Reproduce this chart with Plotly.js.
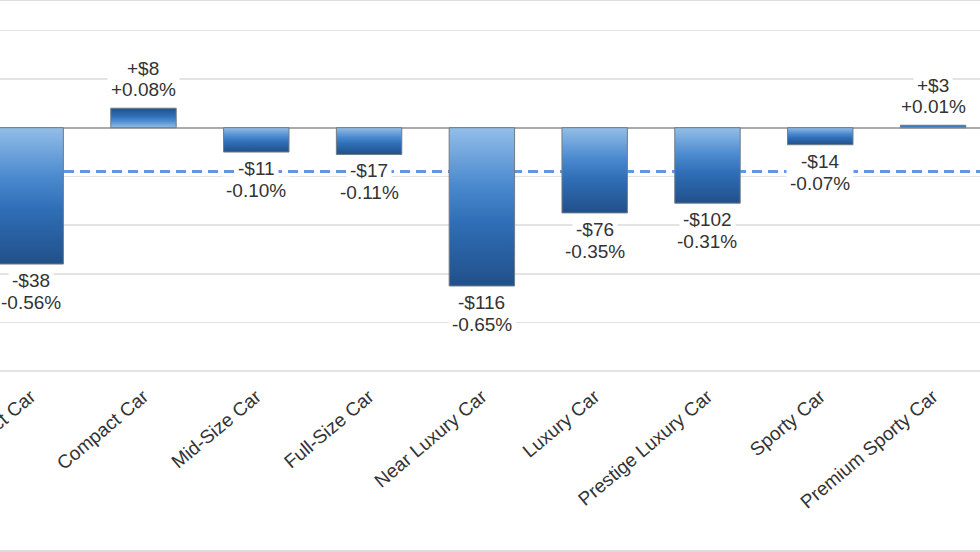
<!DOCTYPE html>
<html>
<head>
<meta charset="utf-8">
<script src="https://cdn.plot.ly/plotly-3.0.1.min.js"></script>
<style>html,body{margin:0;padding:0;background:#fff;}#chart{width:980px;height:552px;}</style>
</head>
<body>
<div id="chart"></div>
<script>
const categories = ["Subcompact Car","Compact Car","Mid-Size Car","Full-Size Car","Near Luxury Car","Luxury Car","Prestige Luxury Car","Sporty Car","Premium Sporty Car"];
const pctChange = [-0.56, 0.08, -0.10, -0.11, -0.65, -0.35, -0.31, -0.07, 0.01];
const dollarChange = [-38, 8, -11, -17, -116, -76, -102, -14, 3];
const avgPct = -0.18;
const gridVals = [0.4, 0.2, 0, -0.2, -0.4, -0.6, -0.8, -1.0];

const FONT = "Liberation Sans, Arial, Helvetica, sans-serif";
const fmtD = v => (v >= 0 ? "+$" : "-$") + Math.abs(v);
const fmtP = v => (v >= 0 ? "+" : "-") + Math.abs(v).toFixed(2) + "%";

const annFont = {family: FONT, size: 19, color: "#333333"};
const annotations = [];
categories.forEach((c, i) => {
  const pos = pctChange[i] >= 0;
  const base = {x: c, y: pctChange[i], xref: "x", yref: "y", showarrow: false,
    bgcolor: "#ffffff", borderpad: 3, font: annFont, yanchor: pos ? "bottom" : "top"};
  if (pos) {
    annotations.push(Object.assign({}, base, {text: fmtP(pctChange[i]), yshift: 4}));
    annotations.push(Object.assign({}, base, {text: fmtD(dollarChange[i]), yshift: 25}));
  } else {
    annotations.push(Object.assign({}, base, {text: fmtD(dollarChange[i]), yshift: -2}));
    annotations.push(Object.assign({}, base, {text: fmtP(pctChange[i]), yshift: -24}));
  }
});

const trace = {
  type: "bar", x: categories, y: pctChange,
  marker: {color: "#3a7dc6", line: {color: "#6f7b86", width: 1}},
  hoverinfo: "none"
};

const layout = {
  width: 980, height: 552,
  margin: {l: 0, r: 0, t: 0, b: 176},
  paper_bgcolor: "#ffffff", plot_bgcolor: "#ffffff",
  showlegend: false, bargap: 0.42,
  font: {family: FONT, color: "#333333"},
  xaxis: {
    type: "category", range: [-0.272, 8.416],
    showgrid: false, showline: false, ticks: "", tickangle: -40, ticklabelstandoff: 5,
    tickfont: {family: FONT, size: 19, color: "#333333"}
  },
  yaxis: {
    range: [-1.0197, 0.5244], tickmode: "array", tickvals: gridVals,
    showticklabels: false, gridcolor: "#e3e3e3", gridwidth: 1.5,
    zeroline: true, zerolinecolor: "#aaaaaa", zerolinewidth: 2
  },
  shapes: [
    {type: "line", xref: "paper", yref: "y", x0: 0, x1: 1, y0: avgPct, y1: avgPct,
     layer: "below", line: {color: "#6495e0", width: 3, dash: "10px,6px"}},
    {type: "line", xref: "paper", yref: "paper", x0: 0, x1: 1, y0: 1, y1: 1,
     line: {color: "#dddddd", width: 2}},
    {type: "line", xref: "paper", yref: "paper", x0: 0, x1: 1, y0: -0.4654, y1: -0.4654,
     line: {color: "#dddddd", width: 2}}
  ],
  annotations: annotations
};

Plotly.newPlot("chart", [trace], layout, {displayModeBar: false, staticPlot: true}).then(gd => {
  const svg = gd.querySelector("svg.main-svg");
  const ns = "http://www.w3.org/2000/svg";
  const defs = document.createElementNS(ns, "defs");
  function grad(id, stops) {
    const g = document.createElementNS(ns, "linearGradient");
    g.setAttribute("id", id);
    g.setAttribute("x1", "0"); g.setAttribute("y1", "0");
    g.setAttribute("x2", "0"); g.setAttribute("y2", "1");
    stops.forEach(s => {
      const st = document.createElementNS(ns, "stop");
      st.setAttribute("offset", s[0]); st.setAttribute("stop-color", s[1]);
      g.appendChild(st);
    });
    defs.appendChild(g);
  }
  const light2dark = [["0%", "#93bee8"], ["35%", "#4d8bd0"], ["60%", "#2f6eb6"], ["100%", "#21508a"]];
  grad("gradNeg", light2dark);
  grad("gradPos", light2dark.map(s => [(100 - parseFloat(s[0])) + "%", s[1]]).reverse());
  svg.insertBefore(defs, svg.firstChild);
  gd.querySelectorAll(".barlayer .point path").forEach((p, i) => {
    p.style.fill = pctChange[i] >= 0 ? "url(#gradPos)" : "url(#gradNeg)";
  });
});
</script>
</body>
</html>
